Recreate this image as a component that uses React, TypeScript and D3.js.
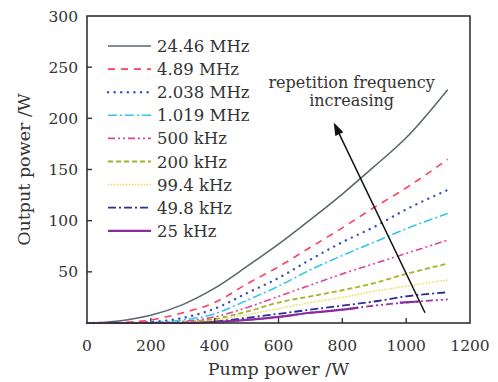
import React from 'react';
import * as d3 from 'd3';

// ---- data ----
const pumpPower = [0, 100, 200, 300, 400, 500, 600, 700, 800, 900, 1000, 1130];
const p24_46MHz = [0, 2, 7.5, 18, 34, 55, 77, 101, 126, 153, 181, 228];
const p4_89MHz = [0, 0.5, 3, 10, 20, 38, 55, 74, 93, 113, 132, 160];
const p2_038MHz = [0, 0, 1, 5, 14, 29, 44, 62, 79, 94, 111, 130];
const p1_019MHz = [0, 0, 0.5, 3, 9, 22, 36, 52, 66, 79, 92, 107];
const p500kHz = [0, 0, 0, 1.5, 6, 15, 26, 37, 48, 58, 68, 81];
const p200kHz = [0, 0, 0, 1, 4, 11, 20, 26, 32, 39, 48, 58];
const p99_4kHz = [0, 0, 0, 0.5, 3, 8, 14, 20, 25, 31, 36, 42];
const p49_8kHz = [0, 0, 0, 0, 1.5, 5, 9, 13, 17, 21, 26, 30];
const p25kHzTrace = [0, 0, 0, 0, 1, 3, 6, 10, 13, 17, 20, 23];
const pump25kHz = [0, 100, 200, 300, 400, 500, 600, 700, 800, 850, 900, 980, 1040];
const p25kHz: (number | null)[] = [0, 0, 0, 0, 1, 3, 6, 10, 13, 15, null, 20, 21];

const legendLabels = ['24.46 MHz', '4.89 MHz', '2.038 MHz', '1.019 MHz', '500 kHz', '200 kHz', '99.4 kHz', '49.8 kHz', '25 kHz'];
const xTicks = [0, 200, 400, 600, 800, 1000, 1200];
const yTicks = [50, 100, 150, 200, 250, 300];
const annotationLines = ['repetition frequency', 'increasing'];
const arrowFrom = [1059, 10];
const arrowTo = [773, 196];
const annotationAt = [829, 230];

// ---- styles ----
const styles = [
  { color: '#56666c', dash: '', width: 1.5, cap: 'butt' },
  { color: '#ff3d5e', dash: '7,6', width: 1.6, cap: 'butt' },
  { color: '#3553c4', dash: '0.1,6.5', width: 2.4, cap: 'round' },
  { color: '#33c4f2', dash: '9,3,2,3', width: 1.6, cap: 'butt' },
  { color: '#e0449c', dash: '7,3,2,3,2,3', width: 1.6, cap: 'butt' },
  { color: '#a4b424', dash: '5,3', width: 1.8, cap: 'butt' },
  { color: '#e4e052', dash: '1.5,1.5', width: 1.5, cap: 'butt' },
  { color: '#2c2c9c', dash: '8,3,2,3', width: 1.8, cap: 'butt' },
  { color: '#8a2d9e', dash: '', width: 2.2, cap: 'butt' },
];
const traceStyle = { color: '#a0339e', dash: '7,3,2,3,2,3', width: 1.8 };

const seriesValues = [p24_46MHz, p4_89MHz, p2_038MHz, p1_019MHz, p500kHz, p200kHz, p99_4kHz, p49_8kHz];

const FONT = '"DejaVu Serif", serif';
const TXT = '#333';

export default function App() {
  const width = 498, height = 382;
  const left = 87, right = 470, top = 16, bottom = 323;
  const x = d3.scaleLinear().domain([0, 1200]).range([left, right]);
  const y = d3.scaleLinear().domain([0, 300]).range([bottom, top]);

  const line = d3.line<[number, number | null]>()
    .defined(d => d[1] !== null)
    .x(d => x(d[0]))
    .y(d => y(d[1] as number))
    .curve(d3.curveMonotoneX);

  const mk = (xs: number[], ys: (number | null)[]) => xs.map((v, i) => [v, ys[i]] as [number, number | null]);

  const legendX0 = 108, legendX1 = 151, legendTextX = 157, legendY0 = 46, legendDy = 23.1;

  const ax = x(arrowFrom[0]), ay = y(arrowFrom[1]);
  const bx = x(arrowTo[0]), by = y(arrowTo[1]);
  const ang = Math.atan2(by - ay, bx - ax);
  const headLen = 13, headW = 4.5;
  const baseX = bx - headLen * Math.cos(ang), baseY = by - headLen * Math.sin(ang);
  const px = -Math.sin(ang), py = Math.cos(ang);
  const head = `M${bx},${by}L${baseX + px * headW},${baseY + py * headW}L${baseX - px * headW},${baseY - py * headW}Z`;

  return (
    <svg width={width} height={height} style={{ position: 'absolute', left: 0, top: 0, background: '#fff' }}>
      {/* series */}
      <path d={line(mk(pumpPower, p25kHzTrace)) || ''} fill="none" stroke={traceStyle.color}
        strokeWidth={traceStyle.width} strokeDasharray={traceStyle.dash} />
      {seriesValues.map((vals, i) => (
        <path key={i} d={line(mk(pumpPower, vals)) || ''} fill="none" stroke={styles[i].color}
          strokeWidth={styles[i].width} strokeDasharray={styles[i].dash || undefined}
          strokeLinecap={styles[i].cap as any} />
      )).reverse()}
      <path d={line(mk(pump25kHz, p25kHz)) || ''} fill="none" stroke={styles[8].color} strokeWidth={styles[8].width} />

      {/* frame */}
      <rect x={left} y={top} width={right - left} height={bottom - top} fill="none" stroke="#333" strokeWidth={1.6} />
      {xTicks.filter(t => t > 0 && t < 1200).map(t => (
        <line key={t} x1={x(t)} x2={x(t)} y1={bottom} y2={bottom - 5} stroke="#333" strokeWidth={1.4} />
      ))}
      {yTicks.filter(t => t < 300).map(t => (
        <line key={t} x1={left} x2={left + 5} y1={y(t)} y2={y(t)} stroke="#333" strokeWidth={1.4} />
      ))}
      {xTicks.map(t => (
        <text key={t} x={x(t)} y={351} textAnchor="middle" fontFamily={FONT} fontSize={15.5} fill={TXT}>{t}</text>
      ))}
      {yTicks.map(t => (
        <text key={t} x={78} y={y(t) + 5.5} textAnchor="end" fontFamily={FONT} fontSize={15.5} fill={TXT}>{t}</text>
      ))}
      <text x={(left + right) / 2} y={375} textAnchor="middle" fontFamily={FONT} fontSize={17.5} fill={TXT}>Pump power /W</text>
      <text transform={`translate(30,${(top + bottom) / 2}) rotate(-90)`} textAnchor="middle" fontFamily={FONT} fontSize={17.5} fill={TXT}>Output power /W</text>

      {/* legend */}
      {legendLabels.map((lab, i) => {
        const ly = legendY0 + i * legendDy;
        return (
          <g key={lab}>
            <line x1={legendX0} x2={legendX1} y1={ly} y2={ly} stroke={styles[i].color}
              strokeWidth={styles[i].width} strokeDasharray={styles[i].dash || undefined}
              strokeLinecap={styles[i].cap as any} />
            <text x={legendTextX} y={ly + 6} fontFamily={FONT} fontSize={16.5} fill={TXT}>{lab}</text>
          </g>
        );
      })}

      {/* annotation */}
      <line x1={ax} y1={ay} x2={baseX} y2={baseY} stroke="#111" strokeWidth={1.5} />
      <path d={head} fill="#111" />
      {annotationLines.map((t, i) => (
        <text key={t} x={x(annotationAt[0])} y={y(annotationAt[1]) + i * 18.5} textAnchor="middle"
          fontFamily={FONT} fontSize={16} fill={TXT}>{t}</text>
      ))}
    </svg>
  );
}
